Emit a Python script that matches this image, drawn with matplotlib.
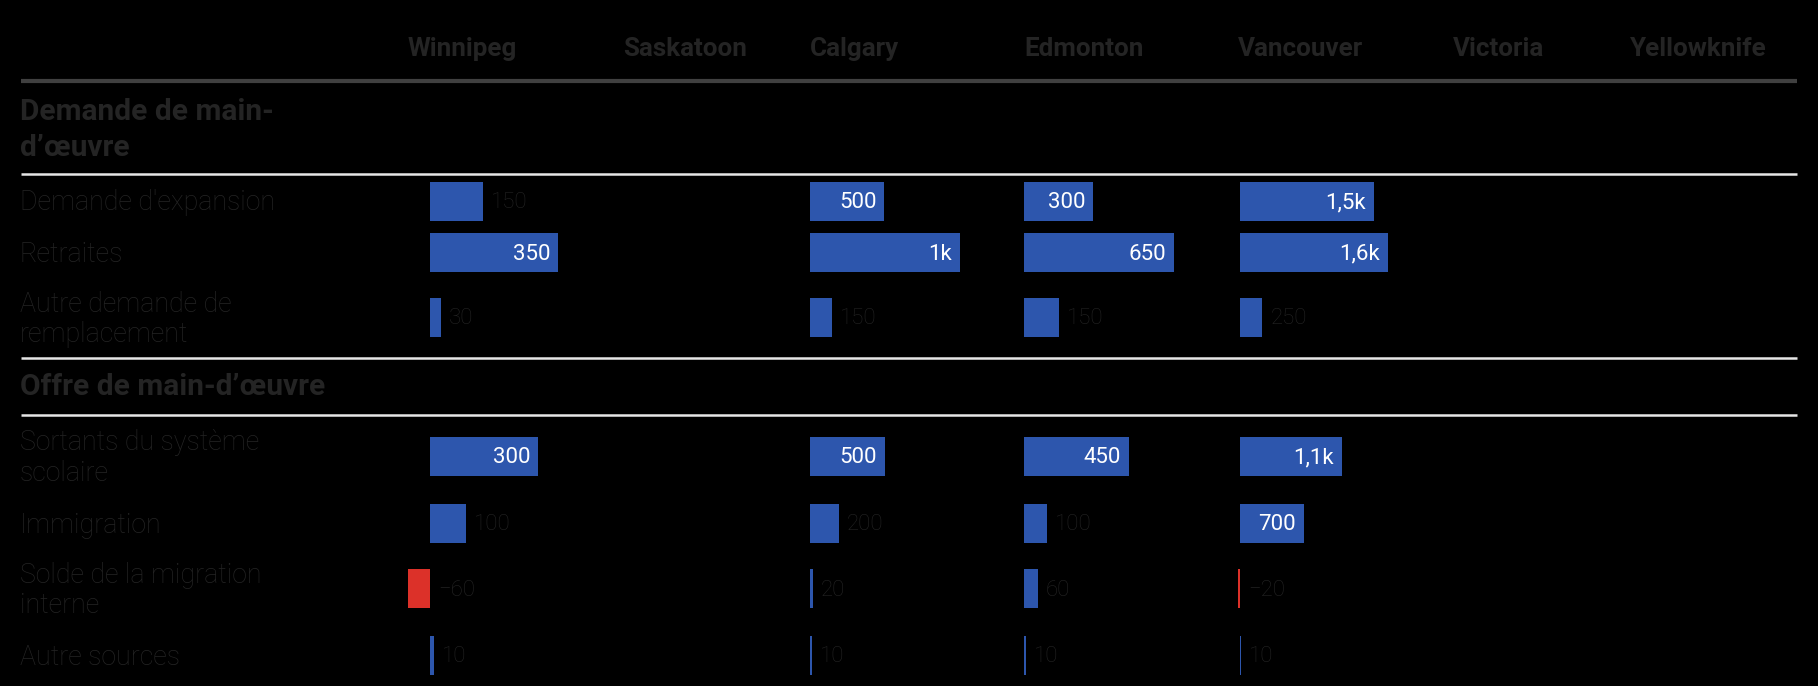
import matplotlib
matplotlib.use("Agg")
import matplotlib.pyplot as plt
from decimal import Decimal, ROUND_HALF_UP

plt.rcParams['font.family'] = ['Roboto', 'DejaVu Sans']

# ---- data ----
cities = ["Winnipeg", "Saskatoon", "Calgary", "Edmonton", "Vancouver", "Victoria", "Yellowknife"]
section_titles = ["Demande de main-\nd’œuvre", "Offre de main-d’œuvre"]
row_labels = ["Demande d'expansion", "Retraites", "Autre demande de\nremplacement",
              "Sortants du système\nscolaire", "Immigration", "Solde de la migration\ninterne",
              "Autre sources"]
winnipeg = [146, 350, 30, 296, 98, -60, 10]
calgary = [496, 1000, 147, 500, 195, 20, 10]
edmonton = [300, 650, 151, 453, 100, 60, 10]
vancouver = [1450, 1600, 242, 1106, 693, -20, 10]
city_values = {"Winnipeg": winnipeg, "Calgary": calgary, "Edmonton": edmonton, "Vancouver": vancouver}

# ---- layout (pixels) ----
W, H = 1818, 686
BG = "black"
DARK = "#242424"
BLUE = "#2d56ad"
RED = "#dc3129"
col_left = [408, 623, 810, 1024, 1238, 1453, 1630]
bar_span = 150
row_y = [201, 252.5, 317.5, 456, 523.5, 588.5, 655.5]
bar_h = 39
section_y = [130, 387]

fig = plt.figure(figsize=(W / 100, H / 100), dpi=100, facecolor=BG)
bg = fig.add_axes([0, 0, 1, 1])
bg.set_xlim(0, W)
bg.set_ylim(H, 0)
bg.axis("off")
bg.set_facecolor(BG)

# header
for c, x in zip(cities, col_left):
    bg.text(x, 49, c, ha="left", va="center", fontsize=18.7, fontweight="bold", color=DARK)
bg.plot([21, 1797], [80.5, 80.5], color="#404040", lw=3, solid_capstyle="butt")

# section titles and rules
for t, y in zip(section_titles, section_y):
    bg.text(20, y, t, ha="left", va="center", fontsize=21.5, fontweight="bold", color=DARK,
            linespacing=1.33)
for y in [174, 358, 415]:
    bg.plot([21, 1797], [y, y], color="#e6e6e6", lw=1.8, solid_capstyle="butt")

for lab, y in zip(row_labels, row_y):
    bg.text(20, y + 2, lab, ha="left", va="center", fontsize=19.3, fontweight="light", color=DARK,
            linespacing=1.17)


def fmt(v):
    s = "−" if v < 0 else ""
    a = abs(v)
    if a >= 1000:
        k = (Decimal(a) / Decimal(1000)).quantize(Decimal("0.1"), rounding=ROUND_HALF_UP)
        t = str(k).rstrip("0").rstrip(".").replace(".", ",") + "k"
    elif a >= 100:
        t = str(int((Decimal(a) / 50).quantize(Decimal("1"), rounding=ROUND_HALF_UP) * 50))
    else:
        t = str(int((Decimal(a) / 10).quantize(Decimal("1"), rounding=ROUND_HALF_UP) * 10))
    return s + t


for c, x in zip(cities, col_left):
    if c not in city_values:
        continue
    vals = city_values[c]
    lo = min(0, min(vals))
    hi = max(vals)
    ax = fig.add_axes([x / W, 0, bar_span / W, 1])
    ax.set_xlim(lo, hi)
    ax.set_ylim(H, 0)
    ax.axis("off")
    ax.patch.set_alpha(0)
    colors = [RED if v < 0 else BLUE for v in vals]
    ax.barh(row_y, vals, height=bar_h, color=colors, linewidth=0)
    ppu = bar_span / (hi - lo)
    pad = 8 / ppu
    for v, y in zip(vals, row_y):
        wpx = abs(v) * ppu
        if v > 0 and wpx > 60:
            ax.text(v - pad, y + 1.5, fmt(v), ha="right", va="center", fontsize=16,
                    color="white", clip_on=False)
        else:
            xs = max(v, 0) + pad
            ax.text(xs, y + 1.5, fmt(v), ha="left", va="center", fontsize=16,
                    fontweight="light", color=DARK, clip_on=False)

fig.savefig("out.png", dpi=100, facecolor=BG)
